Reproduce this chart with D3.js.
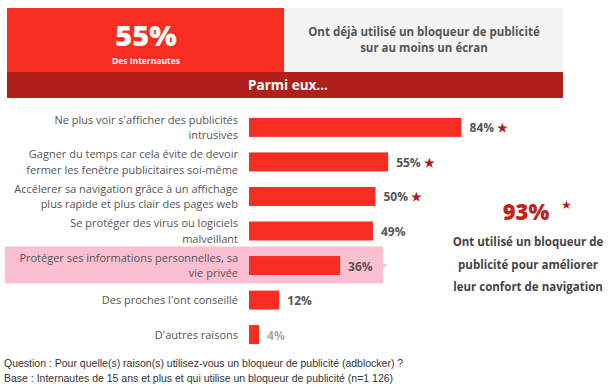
<!DOCTYPE html>
<html>
<head>
    <meta charset="utf-8">
    <script src="https://d3js.org/d3.v7.min.js"></script>
    <style>
        body { margin: 0; background: #fff; }
        svg { display: block; font-family: "Open Sans", sans-serif; }
    </style>
</head>
<body>
    <div id="chart"></div>
    <script>
        let reasons = [
            ["Ne plus voir s'afficher des publicités", "intrusives"],
            ["Gagner du temps car cela évite de devoir", "fermer les fenêtre publicitaires soi-même"],
            ["Accélerer sa navigation grâce à un affichage", "plus rapide et plus clair des pages web"],
            ["Se protéger des virus ou logiciels", "malveillant"],
            ["Protéger ses informations personnelles, sa", "vie privée"],
            ["Des proches l'ont conseillé"],
            ["D'autres raisons"]
        ];
        let values = [84, 55, 50, 49, 36, 12, 4];
        let starred = [true, true, true, false, false, false, false];
        let headline = "55%";
        let headlineSub = "Des Internautes";
        let headlineText = ["Ont déjà utilisé un bloqueur de publicité", "sur au moins un écran"];
        let sideValue = "93%";
        let sideText = ["Ont utilisé un bloqueur de", "publicité pour améliorer", "leur confort de navigation"];
        let notes = [
            "Question : Pour quelle(s) raison(s) utilisez-vous un bloqueur de publicité (adblocker) ?",
            "Base : Internautes de 15 ans et plus et qui utilise un bloqueur de publicité (n=1 126)"
        ];

        let width = 612, height = 390;
        let red = "#f72d22", darkRed = "#b01f1a", grey = "#555";

        let svg = d3.select("#chart").append("svg")
            .attr("width", width)
            .attr("height", height);

        // bandeau du haut
        svg.append("rect").attr("x", 7).attr("y", 8).attr("width", 277).attr("height", 64).attr("fill", red);
        svg.append("rect").attr("x", 284).attr("y", 8).attr("width", 279).attr("height", 64).attr("fill", "#f4f4f4");
        svg.append("rect").attr("x", 7).attr("y", 72).attr("width", 556).attr("height", 26).attr("fill", darkRed);

        svg.append("text").attr("x", 146).attr("y", 46).attr("text-anchor", "middle")
            .attr("fill", "#fff").attr("font-size", 29).attr("font-weight", 800).text(headline);
        svg.append("text").attr("x", 146).attr("y", 64).attr("text-anchor", "middle")
            .attr("fill", "#fff").attr("font-size", 8.5).attr("font-weight", 700).text(headlineSub);

        svg.append("text").attr("x", 424).attr("text-anchor", "middle")
            .attr("fill", grey).attr("font-size", 11.5).attr("font-weight", 700)
            .selectAll("tspan").data(headlineText).join("tspan")
            .attr("x", 424).attr("y", (d, i) => 36 + i * 16).text(d => d);

        svg.append("text").attr("x", 288).attr("y", 90).attr("text-anchor", "middle")
            .attr("fill", "#fff").attr("font-size", 13.5).attr("font-weight", 700).text("Parmi eux...");

        // barres
        let x = d3.scaleLinear().domain([0, 100]).range([249, 502]);
        let y = d3.scaleBand().domain(d3.range(values.length)).range([111, 351]).paddingInner(0.45).paddingOuter(0.2);

        // surlignage de la 5e ligne
        let hy = y(4) + y.bandwidth() / 2;
        svg.append("path")
            .attr("d", `M5,${hy - 19}H383V${hy - 3}L387,${hy}L383,${hy + 3}V${hy + 18}H5Z`)
            .attr("fill", "#fbbfd2");

        svg.append("g").selectAll("rect").data(values).join("rect")
            .attr("x", x(0))
            .attr("y", (d, i) => y(i))
            .attr("width", d => x(d) - x(0))
            .attr("height", y.bandwidth())
            .attr("fill", red);

        let labels = svg.append("g").selectAll("text").data(reasons).join("text")
            .attr("text-anchor", "end")
            .attr("fill", grey)
            .attr("font-size", 11);
        labels.selectAll("tspan").data((d, i) => d.map((t, j) => ({ t, j, n: d.length, i }))).join("tspan")
            .attr("x", 238)
            .attr("y", d => y(d.i) + y.bandwidth() / 2 + 4 + (d.j - (d.n - 1) / 2) * 15.5)
            .text(d => d.t);

        let valueLabels = svg.append("g").selectAll("text").data(values).join("text")
            .attr("x", d => x(d) + 8)
            .attr("y", (d, i) => y(i) + y.bandwidth() / 2 + 5)
            .attr("fill", (d, i) => i === values.length - 1 ? "#aaa" : grey)
            .attr("font-size", 12)
            .attr("font-weight", 700)
            .text(d => d + "%");
        valueLabels.filter((d, i) => starred[i]).append("tspan")
            .attr("dx", 3).attr("fill", darkRed).attr("font-size", 12).text("★");

        // encart de droite
        svg.append("text").attr("x", 526).attr("y", 220).attr("text-anchor", "middle")
            .attr("fill", "#c3231c").attr("font-size", 22).attr("font-weight", 800).text(sideValue);
        svg.append("text").attr("x", 566).attr("y", 209).attr("text-anchor", "middle")
            .attr("fill", darkRed).attr("font-size", 12).text("★");
        svg.append("g").selectAll("text").data(sideText).join("text")
            .attr("x", 528).attr("y", (d, i) => 246 + i * 22.5)
            .attr("text-anchor", "middle")
            .attr("fill", "#444").attr("font-size", 11.5).attr("font-weight", 700)
            .text(d => d);

        // notes
        svg.append("g").selectAll("text").data(notes).join("text")
            .attr("x", 4).attr("y", (d, i) => 367 + i * 15)
            .attr("fill", "#333")
            .attr("font-family", "Liberation Sans, Arial, sans-serif")
            .attr("font-size", 10.5)
            .text(d => d);
    </script>
</body>
</html>
